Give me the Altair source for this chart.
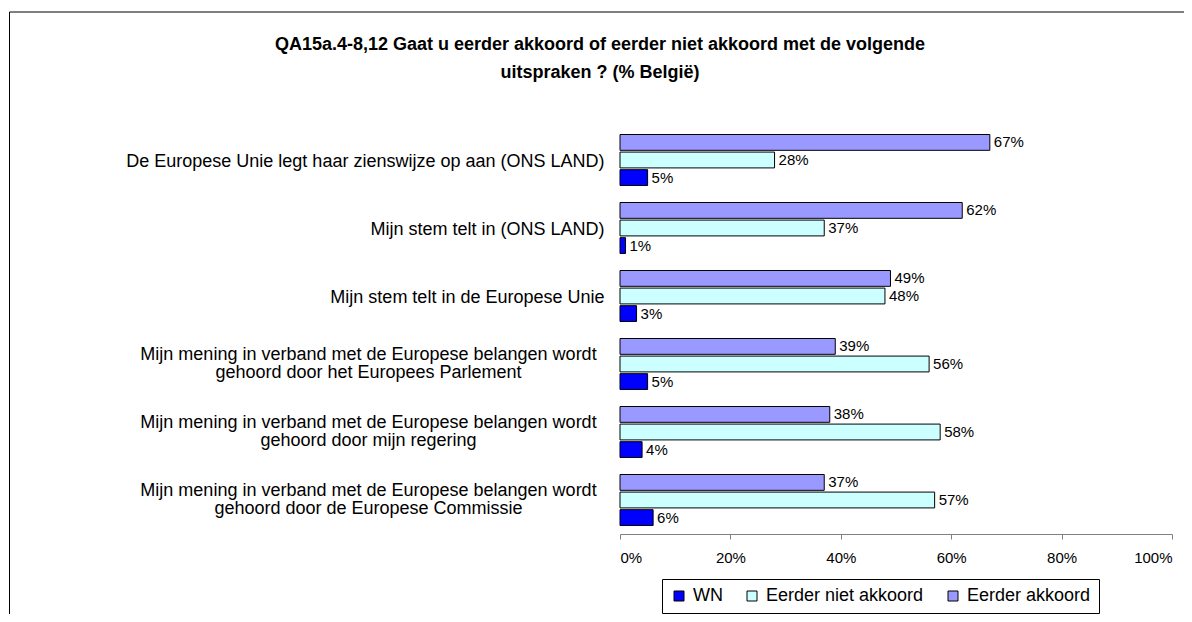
import altair as alt
import pandas as pd

categories = [
    "De Europese Unie legt haar zienswijze op aan (ONS LAND)",
    "Mijn stem telt in (ONS LAND)",
    "Mijn stem telt in de Europese Unie",
    "Mijn mening in verband met de Europese belangen wordt|gehoord door het Europees Parlement",
    "Mijn mening in verband met de Europese belangen wordt|gehoord door mijn regering",
    "Mijn mening in verband met de Europese belangen wordt|gehoord door de Europese Commissie",
]
series = ["WN", "Eerder niet akkoord", "Eerder akkoord"]
colors = ["#0000FF", "#CCFFFF", "#9999FF"]
akkoord = [67, 62, 49, 39, 38, 37]
niet_akkoord = [28, 37, 48, 56, 58, 57]
wn = [5, 1, 3, 5, 4, 6]
x_ticks = [0, 20, 40, 60, 80, 100]
title_lines = [
    "QA15a.4-8,12 Gaat u eerder akkoord of eerder niet akkoord met de volgende",
    "uitspraken ? (% België)",
]

rows = []
for i, c in enumerate(categories):
    rows.append({"cat": c, "serie": "Eerder akkoord", "val": akkoord[i]})
    rows.append({"cat": c, "serie": "Eerder niet akkoord", "val": niet_akkoord[i]})
    rows.append({"cat": c, "serie": "WN", "val": wn[i]})
df = pd.DataFrame(rows)
df["label"] = df["val"].astype(str) + "%"

FONT = "Liberation Sans"
multi_test = "indexof(datum.value, '|') >= 0"
offset_order = ["Eerder akkoord", "Eerder niet akkoord", "WN"]

y_enc = alt.Y(
    "cat:N",
    sort=categories,
    title=None,
    scale=alt.Scale(paddingInner=0.25, paddingOuter=0.125),
    axis=alt.Axis(
        domain=False,
        ticks=False,
        labelLimit=1000,
        labelFont=FONT,
        labelFontSize=18,
        labelColor="#000000",
        labelLineHeight=18,
        labelExpr="split(datum.label, '|')",
        labelAlign={"condition": {"test": multi_test, "value": "center"}, "value": "right"},
        labelPadding={"condition": {"test": multi_test, "value": 252}, "value": 16},
        labelOffset={"condition": {"test": multi_test, "value": -9}, "value": 2},
    ),
)
yoff_enc = alt.YOffset(
    "serie:N",
    sort=offset_order,
    scale=alt.Scale(paddingInner=0.1),
)
x_enc = alt.X(
    "val:Q",
    title=None,
    scale=alt.Scale(domain=[0, 100]),
    axis=alt.Axis(
        values=x_ticks,
        labelExpr="datum.value + '%'",
        grid=False,
        domainColor="#808080",
        tickColor="#808080",
        tickSize=5,
        labelFont=FONT,
        labelFontSize=15,
        labelColor="#000000",
        labelPadding=11,
    ),
)

base = alt.Chart(df)

bars = base.mark_bar(stroke="#000000", strokeWidth=1).encode(
    y=y_enc,
    yOffset=yoff_enc,
    x=x_enc,
    color=alt.Color(
        "serie:N",
        scale=alt.Scale(domain=series, range=colors),
        legend=alt.Legend(
            title=None,
            orient="none",
            legendX=42,
            legendY=453,
            direction="horizontal",
            strokeColor="#000000",
            fillColor="#FFFFFF",
            padding=8,
            symbolType="square",
            symbolSize=100,
            symbolStrokeColor="#000000",
            symbolStrokeWidth=1,
            labelFont=FONT,
            labelFontSize=18,
            labelColor="#000000",
            labelOffset=5,
            columnPadding=20,
        ),
    ),
)

texts = base.mark_text(align="left", baseline="middle", dx=4, font=FONT, fontSize=15, color="#000000").encode(
    y=alt.Y("cat:N", sort=categories),
    yOffset=alt.YOffset("serie:N", sort=offset_order),
    x=alt.X("val:Q"),
    text="label:N",
)

frame_df = pd.DataFrame({"k": [0]})
frame_v = alt.Chart(frame_df).mark_rule(color="#000000", strokeWidth=1).encode(
    x=alt.value(-610.5), y=alt.value(-114), y2=alt.value(520)
)
frame_h = alt.Chart(frame_df).mark_rule(color="#000000", strokeWidth=1).encode(
    x=alt.value(-610.5), x2=alt.value(600), y=alt.value(-114)
)

chart = (
    alt.layer(frame_v, frame_h, bars, texts)
    .properties(
        width=552,
        height=408,
        background="#FFFFFF",
        autosize=alt.AutoSizeParams(type="none"),
        padding={"left": 612, "top": 118, "right": 12, "bottom": 80},
        title=alt.TitleParams(
            text=title_lines,
            font=FONT,
            fontSize=18,
            fontWeight="bold",
            color="#000000",
            anchor="middle",
            frame="group",
            dx=-296,
            offset=-70,
            lineHeight=28,
        ),
    )
    .configure_view(stroke="transparent", strokeWidth=0)
)

chart.save("out.html", embed_options={"renderer": "svg", "actions": False})
